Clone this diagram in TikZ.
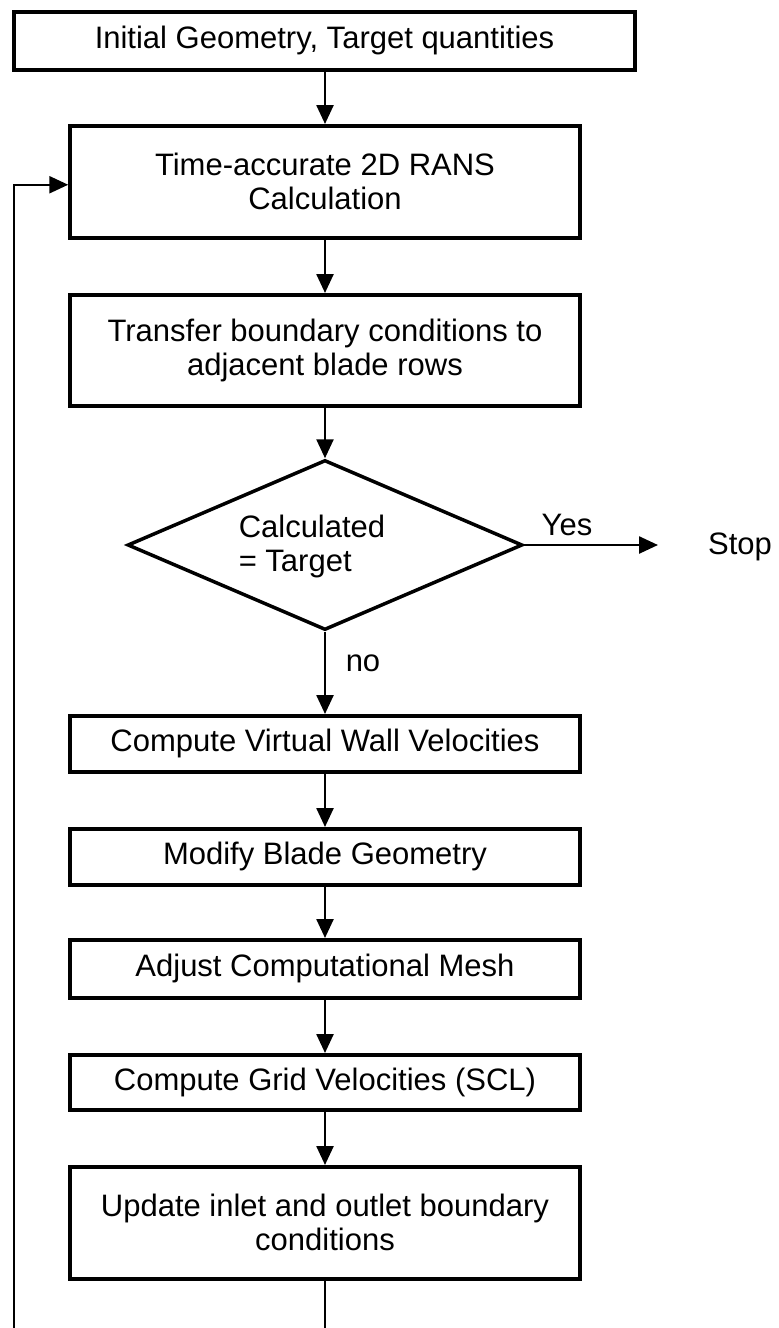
\documentclass[tikz,border=0pt]{standalone}
\usepackage{fontspec}
\setmainfont{Liberation Sans}
\usetikzlibrary{shapes.geometric,arrows.meta,positioning}

\tikzset{
  procbox/.style={draw=black, line width=3.5pt, fill=white, inner sep=0pt,
                  align=center, anchor=north},
  decision/.style={draw=black, line width=3.5pt, diamond, inner sep=0pt,
                   minimum width=395pt, minimum height=170pt},
  arr/.style={line width=2.5pt, -{Triangle[length=19pt,width=17pt]}},
  plain/.style={line width=2.5pt},
  lbl/.style={inner sep=0pt}
}

\begin{document}
\begin{tikzpicture}[x=1pt, y=-1pt,
  every node/.append style={font=\fontsize{31}{34}\selectfont}]
  \useasboundingbox (0,0) rectangle (779,1328);

  % process steps
  \node[procbox, minimum width=621pt, minimum height=58pt] (init) at (324.5,10)
    {Initial Geometry, Target quantities};
  \node[procbox, minimum width=510pt, minimum height=112pt] (rans) at (325,124)
    {Time-accurate 2D RANS\\Calculation};
  \node[procbox, minimum width=510pt, minimum height=111pt] (transfer) at (325,293)
    {Transfer boundary conditions to\\adjacent blade rows};

  % convergence test
  \node[decision] (dec) at (325,545) {};
  \node[lbl, align=left] (dectxt) at (312,546) {Calculated\\= Target};

  \node[procbox, minimum width=510pt, minimum height=56pt] (wallvel) at (325,714)
    {Compute Virtual Wall Velocities};
  \node[procbox, minimum width=510pt, minimum height=56pt] (modify) at (325,827)
    {Modify Blade Geometry};
  \node[procbox, minimum width=510pt, minimum height=58pt] (mesh) at (325,938)
    {Adjust Computational Mesh};
  \node[procbox, minimum width=510pt, minimum height=55pt] (gridvel) at (325,1053)
    {Compute Grid Velocities (SCL)};
  \node[procbox, minimum width=510pt, minimum height=112pt] (update) at (325,1165)
    {Update inlet and outlet boundary\\conditions};

  % exit
  \node[lbl] (stop) at (740,547) {Stop};
  \coordinate (yesend) at (658,545);
  \node[lbl] (yes) at (567,525) {Yes};
  \node[lbl] (no) at (363,663) {no};

  % main flow
  \draw[arr] (init.south -| rans.north) -- (rans.north);
  \draw[arr] (rans.south) -- (transfer.north);
  \draw[arr] (transfer.south) -- (dec.north);
  \draw[arr] (dec.east) -- (yesend);
  \draw[arr] (dec.south) -- (wallvel.north);
  \draw[arr] (wallvel.south) -- (modify.north);
  \draw[arr] (modify.south) -- (mesh.north);
  \draw[arr] (mesh.south) -- (gridvel.north);
  \draw[arr] (gridvel.south) -- (update.north);

  % iteration loop back to the flow solver
  \coordinate (loopcorner) at (14,1360);
  \draw[plain] (update.south) |- (loopcorner);
  \draw[arr] (loopcorner) |- ([yshift=-3pt]rans.west);
\end{tikzpicture}
\end{document}
